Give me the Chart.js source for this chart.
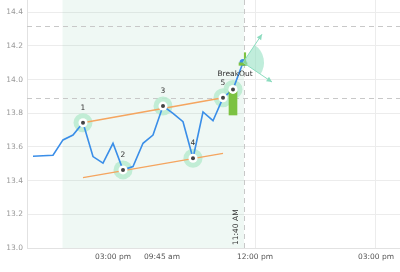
<!DOCTYPE html>
<html>
<head>
<meta charset="utf-8">
<script src="https://cdn.jsdelivr.net/npm/chart.js@4/dist/chart.umd.min.js"></script>
<style>
    html, body { margin: 0; padding: 0; background: #fff; }
    #wrap { width: 400px; height: 272px; }
</style>
</head>
<body>
<div id="wrap"><canvas id="breakoutChart"></canvas></div>
<script>
// Price series (one bar every step on the x axis)
const price = [13.545, 13.548, 13.551, 13.642, 13.671, 13.744, 13.543, 13.504, 13.622, 13.464, 13.484,
               13.622, 13.671, 13.843, 13.800, 13.750, 13.533, 13.808, 13.756, 13.892, 13.942, 14.102];

// Pivot points and their labels
const pivotIdx = [5, 9, 13, 16, 19, 20];
const pivotLabels = ['1', '2', '3', '4', '5', 'BreakOut'];

// Trend lines (start / end)
const trendX = [5, 19];
const upperTrend = [13.744, 13.892];
const lowerTrend = [13.418, 13.562];

// Breakout candle + small follow-up candle
const candleX = [20, 21];
const candleLow = [13.79, 14.085];
const candleHigh = [13.93, 14.10];
const wickLow = [14.10];
const wickHigh = [14.16];

// Dashed resistance levels and session zone
const levels = [14.32, 13.89];
const zoneStart = 2.95;
const zoneEnd = 21.1;
const zoneLabel = '11:40 AM';

// X axis tick labels
const tickPos = [8, 12.9, 22.2, 34.3];
const tickLabels = ['03:00 pm', '09:45 am', '12:00 pm', '03:00 pm'];

const FONT = "'DejaVu Sans', Verdana, sans-serif";
Chart.defaults.font.family = FONT;

const pivotPts = pivotIdx.map(i => ({x: i, y: price[i]}));

function arrow(ctx, x0, y0, ang, len) {
    const x1 = x0 + Math.cos(ang) * len, y1 = y0 + Math.sin(ang) * len;
    ctx.beginPath();
    ctx.moveTo(x0, y0);
    ctx.lineTo(x1, y1);
    ctx.stroke();
    ctx.beginPath();
    ctx.moveTo(x1, y1);
    ctx.lineTo(x1 - Math.cos(ang - 0.45) * 6, y1 - Math.sin(ang - 0.45) * 6);
    ctx.lineTo(x1 - Math.cos(ang + 0.45) * 6, y1 - Math.sin(ang + 0.45) * 6);
    ctx.closePath();
    ctx.fill();
}

// no label padding, the plot fills the canvas edge to edge
function noPad(axis) {
    axis.paddingTop = 0;
    axis.paddingBottom = 0;
    axis.paddingLeft = 0;
    axis.paddingRight = 0;
}

const overlay = {
    id: 'overlay',
    beforeDatasetsDraw(chart) {
        const {ctx, chartArea: a, scales: {x, y}} = chart;
        ctx.save();
        const x0 = x.getPixelForValue(zoneStart), x1 = x.getPixelForValue(zoneEnd);
        ctx.fillStyle = 'rgba(120, 200, 165, 0.12)';
        ctx.fillRect(x0, a.top, x1 - x0, a.bottom - a.top);

        ctx.strokeStyle = '#c8c8c8';
        ctx.lineWidth = 1;
        ctx.setLineDash([5, 4]);
        levels.forEach(v => {
            const py = Math.round(y.getPixelForValue(v)) + 0.5;
            ctx.beginPath();
            ctx.moveTo(a.left, py);
            ctx.lineTo(a.right, py);
            ctx.stroke();
        });
        const px = Math.round(x1) + 0.5;
        ctx.beginPath();
        ctx.moveTo(px, a.top);
        ctx.lineTo(px, a.bottom);
        ctx.stroke();
        ctx.restore();
    },
    afterDatasetsDraw(chart) {
        const {ctx, chartArea: a, scales: {x}} = chart;
        ctx.save();

        // fan from the last price point
        const line = chart.getDatasetMeta(0).data;
        const last = line[line.length - 1];
        const a0 = -56 * Math.PI / 180, a1 = 34 * Math.PI / 180;
        ctx.fillStyle = 'rgba(150, 225, 195, 0.6)';
        ctx.beginPath();
        ctx.moveTo(last.x, last.y);
        ctx.arc(last.x, last.y, 21, a0, a1);
        ctx.closePath();
        ctx.fill();
        ctx.strokeStyle = '#8cdcbf';
        ctx.fillStyle = '#8cdcbf';
        ctx.lineWidth = 1;
        arrow(ctx, last.x, last.y, a0, 34);
        arrow(ctx, last.x, last.y, a1, 35);

        // pivot labels
        const pts = chart.getDatasetMeta(1).data;
        ctx.fillStyle = '#333';
        ctx.font = '7.5px ' + FONT;
        ctx.textAlign = 'center';
        ctx.textBaseline = 'middle';
        pts.forEach((p, i) => {
            const dx = pivotLabels[i].length > 1 ? 2 : 0;
            ctx.fillText(pivotLabels[i], p.x + dx, p.y - 15);
        });

        // zone end label, rotated
        ctx.translate(x.getPixelForValue(zoneEnd) - 8, a.bottom - 3);
        ctx.rotate(-Math.PI / 2);
        ctx.textAlign = 'left';
        ctx.fillText(zoneLabel, 0, 0);
        ctx.restore();
    }
};

const lastIdx = price.length - 1;

new Chart(document.getElementById('breakoutChart'), {
    type: 'line',
    data: {
        datasets: [{
            label: 'Price',
            data: price.map((v, i) => ({x: i, y: v})),
            borderColor: '#3a8ee8',
            borderWidth: 1.6,
            pointRadius: ctx => ctx.dataIndex === lastIdx ? 3.5 : 0,
            pointBackgroundColor: '#3a8ee8',
            pointBorderWidth: 0,
            tension: 0,
            order: 4
        }, {
            label: 'Pivot halo',
            data: pivotPts,
            showLine: false,
            pointRadius: 9.5,
            pointBackgroundColor: 'rgba(185, 235, 207, 0.85)',
            pointBorderWidth: 0,
            order: 9
        }, {
            label: 'Upper trend',
            data: trendX.map((v, i) => ({x: v, y: upperTrend[i]})),
            borderColor: '#f5a55f',
            borderWidth: 1.5,
            pointRadius: 0,
            order: 6
        }, {
            label: 'Lower trend',
            data: trendX.map((v, i) => ({x: v, y: lowerTrend[i]})),
            borderColor: '#f5a55f',
            borderWidth: 1.5,
            pointRadius: 0,
            order: 6
        }, {
            type: 'bar',
            label: 'Candle',
            data: candleX.map((v, i) => ({x: v, y: [candleLow[i], candleHigh[i]]})),
            backgroundColor: '#7cc242',
            barThickness: 8,
            grouped: false,
            order: 3
        }, {
            type: 'bar',
            label: 'Wick',
            data: wickLow.map((v, i) => ({x: candleX[1] + 0.2, y: [v, wickHigh[i]]})),
            backgroundColor: '#7cc242',
            barThickness: 1.5,
            grouped: false,
            order: 3
        }, {
            label: 'Pivot',
            data: pivotPts,
            showLine: false,
            pointRadius: 4.5,
            pointBackgroundColor: '#fff',
            pointBorderWidth: 0,
            order: 2
        }, {
            label: 'Pivot dot',
            data: pivotPts,
            showLine: false,
            pointRadius: 2,
            pointBackgroundColor: '#444',
            pointBorderWidth: 0,
            order: 1
        }]
    },
    options: {
        responsive: true,
        maintainAspectRatio: false,
        animation: false,
        layout: { padding: 0, autoPadding: false },
        plugins: {
            legend: { display: false },
            tooltip: { enabled: false }
        },
        scales: {
            x: {
                type: 'linear',
                min: -0.6,
                max: 36.7,
                offset: false,
                afterBuildTicks: axis => { axis.ticks = tickPos.map(v => ({value: v})); },
                afterFit: axis => { axis.height = 24; noPad(axis); },
                ticks: {
                    autoSkip: false,
                    maxRotation: 0,
                    padding: 5,
                    color: '#555',
                    font: { size: 7.5 },
                    callback: (v, i) => tickLabels[i]
                },
                grid: {
                    offset: false,
                    drawTicks: false,
                    color: ctx => ctx.tick && ctx.tick.value > 20 ? '#ececec' : 'rgba(0,0,0,0)'
                },
                border: { color: '#e2e2e2' }
            },
            y: {
                min: 13.0,
                max: 14.473,
                afterFit: axis => { axis.width = 27; noPad(axis); },
                ticks: {
                    stepSize: 0.2,
                    includeBounds: false,
                    padding: 4,
                    color: '#999',
                    font: { size: 7.5 },
                    callback: v => v.toFixed(1)
                },
                grid: { drawTicks: false, color: '#ececec' },
                border: { color: '#e2e2e2' }
            }
        }
    },
    plugins: [overlay]
});
</script>
</body>
</html>
